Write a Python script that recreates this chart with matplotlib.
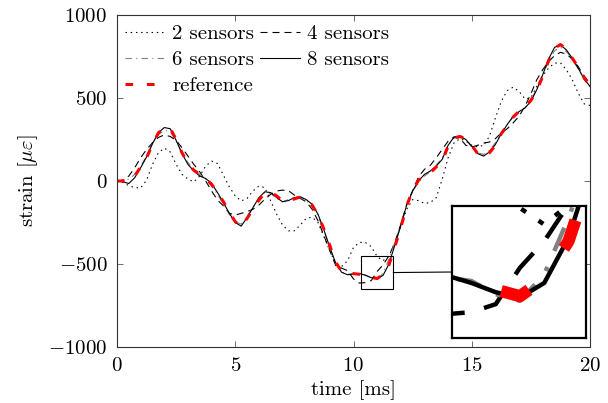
import numpy as np
import matplotlib
matplotlib.use('Agg')
import matplotlib.pyplot as plt
from matplotlib.patches import Rectangle, ConnectionPatch

plt.rcParams['font.family'] = 'serif'
plt.rcParams['font.serif'] = ['cmr10']
plt.rcParams['mathtext.fontset'] = 'cm'
plt.rcParams['axes.formatter.use_mathtext'] = True
plt.rcParams['font.size'] = 15

# tiempo de muestreo (ms)
t = np.linspace(0, 20, 81)

s2 = [0, -8, -28, -40, -42, 5, 100, 170, 198, 175, 100, 40, 12, -5, 30, 90, 120, 105, 35, -35,
      -90, -120, -105, -60, -30, -40, -120, -200, -265, -300, -300, -265, -225, -218, -250, -335,
      -420, -500, -515, -480, -400, -370, -370, -395, -455, -480, -450, -380, -270, -170, -112,
      -118, -135, -130, -100, 10, 140, 230, 255, 240, 215, 205, 215, 270, 380, 480, 545, 565, 540,
      495, 500, 570, 635, 680, 710, 712, 670, 610, 530, 465, 455]

s4 = [0, 5, 30, 80, 140, 190, 230, 262, 278, 268, 245, 200, 150, 100, 55, 0, -60, -115, -150, -195,
      -205, -195, -185, -170, -145, -110, -80, -60, -55, -58, -85, -105, -125, -170, -240, -330,
      -420, -510, -525, -540, -590, -615, -612, -600, -545, -505, -450, -370, -260, -140, -60, 25,
      70, 95, 140, 190, 240, 265, 258, 215, 205, 215, 228, 235, 255, 290, 315, 350, 390, 450, 525,
      610, 670, 720, 755, 775, 765, 735, 690, 630, 590]

s6 = [0, 5, 10, 40, 90, 150, 225, 280, 305, 300, 240, 170, 110, 70, 40, 10, -30, -80, -140, -200,
      -245, -260, -215, -160, -105, -70, -75, -105, -125, -112, -100, -100, -118, -150, -210, -300,
      -405, -495, -548, -562, -558, -560, -565, -585, -595, -555, -470, -370, -265, -150, -65, -5,
      30, 55, 95, 140, 215, 258, 262, 245, 205, 170, 160, 185, 230, 290, 340, 385, 410, 440, 485,
      555, 640, 720, 785, 805, 780, 735, 675, 610, 565]

s8 = [0, -5, -15, 20, 80, 145, 225, 290, 322, 315, 245, 165, 100, 60, 30, 15, -15, -70, -130, -195,
      -250, -272, -220, -160, -100, -65, -70, -100, -125, -118, -100, -95, -112, -140, -200, -295,
      -400, -495, -550, -565, -560, -557, -568, -582, -590, -568, -500, -385, -270, -145, -60, 0,
      40, 60, 90, 130, 215, 265, 270, 250, 210, 165, 150, 175, 220, 285, 340, 390, 418, 440, 480,
      550, 640, 735, 805, 820, 790, 740, 680, 615, 570]

ref = [0, 0, -3, 30, 85, 140, 220, 290, 318, 318, 250, 170, 105, 65, 40, 15, -20, -70, -125, -190,
       -245, -275, -225, -170, -115, -72, -68, -90, -120, -120, -108, -96, -110, -145, -205, -290,
       -390, -490, -545, -558, -558, -562, -570, -578, -588, -562, -505, -395, -280, -150, -55, 5,
       35, 50, 85, 120, 210, 260, 268, 255, 215, 165, 145, 170, 215, 285, 335, 385, 420, 445, 485,
       545, 630, 725, 800, 822, 795, 740, 685, 625, 575]

series = [
    ('2 sensors', s2, 'black', 0.8, (0, (1.3, 3.4))),
    ('4 sensors', s4, 'black', 0.8, (0, (6.3, 4.5))),
    ('6 sensors', s6, 'gray', 0.8, (0, (5.7, 3.9, 1.0, 3.9))),
    ('8 sensors', s8, 'black', 0.8, '-'),
    ('reference', ref, 'red', 2.2, (0, (2.5, 4.5))),
]

# zona ampliada
zoom_x = (10.30, 11.68)
zoom_y = (-651, -452)

fig = plt.figure(figsize=(6.08, 4.03), dpi=100)
ax = fig.add_axes([117 / 608, 1 - 347 / 403, 473 / 608, 332 / 403])

lineas = {}
for nombre, datos, color, lw, ls in series:
    lineas[nombre], = ax.plot(t, datos, color=color, lw=lw, linestyle=ls, label=nombre)

ax.set_xlim(0, 20)
ax.set_ylim(-1000, 1000)
ax.set_xticks([0, 5, 10, 15, 20])
ax.set_yticks([-1000, -500, 0, 500, 1000])
ax.tick_params(direction='in', top=True, right=True, length=4, width=0.6, color='#555555', pad=7)
for sp in ax.spines.values():
    sp.set_color('#333333')
    sp.set_linewidth(0.8)
ax.set_xlabel('time [ms]', labelpad=4)
ax.set_ylabel(r'strain [$\mu\varepsilon$]', labelpad=6)

orden = ['2 sensors', '6 sensors', 'reference', '4 sensors', '8 sensors']
ax.legend([lineas[n] for n in orden], orden, ncol=2, loc='upper left', frameon=False,
          bbox_to_anchor=(0.0, 0.997), borderaxespad=0.0, borderpad=0.4, handlelength=1.9,
          handletextpad=0.35, columnspacing=0.3, labelspacing=0.37)

ax.add_patch(Rectangle((zoom_x[0], zoom_y[0]), zoom_x[1] - zoom_x[0], zoom_y[1] - zoom_y[0],
                       fill=False, ec='black', lw=0.8, zorder=5))

ax_in = fig.add_axes([452 / 608, 1 - 338 / 403, 134 / 608, 132 / 403])
for nombre, datos, color, lw, ls in series:
    ax_in.plot(t, datos, color=color, lw=lw * 4, linestyle=ls)
ax_in.set_xlim(*zoom_x)
ax_in.set_ylim(*zoom_y)
ax_in.set_xticks([])
ax_in.set_yticks([])
for sp in ax_in.spines.values():
    sp.set_color('black')
    sp.set_linewidth(1.6)

con = ConnectionPatch(xyA=(zoom_x[1], sum(zoom_y) / 2), coordsA=ax.transData,
                      xyB=(0, 0.5), coordsB=ax_in.transAxes, color='black', lw=0.8)
fig.add_artist(con)

fig.savefig('out.png', dpi=100)
